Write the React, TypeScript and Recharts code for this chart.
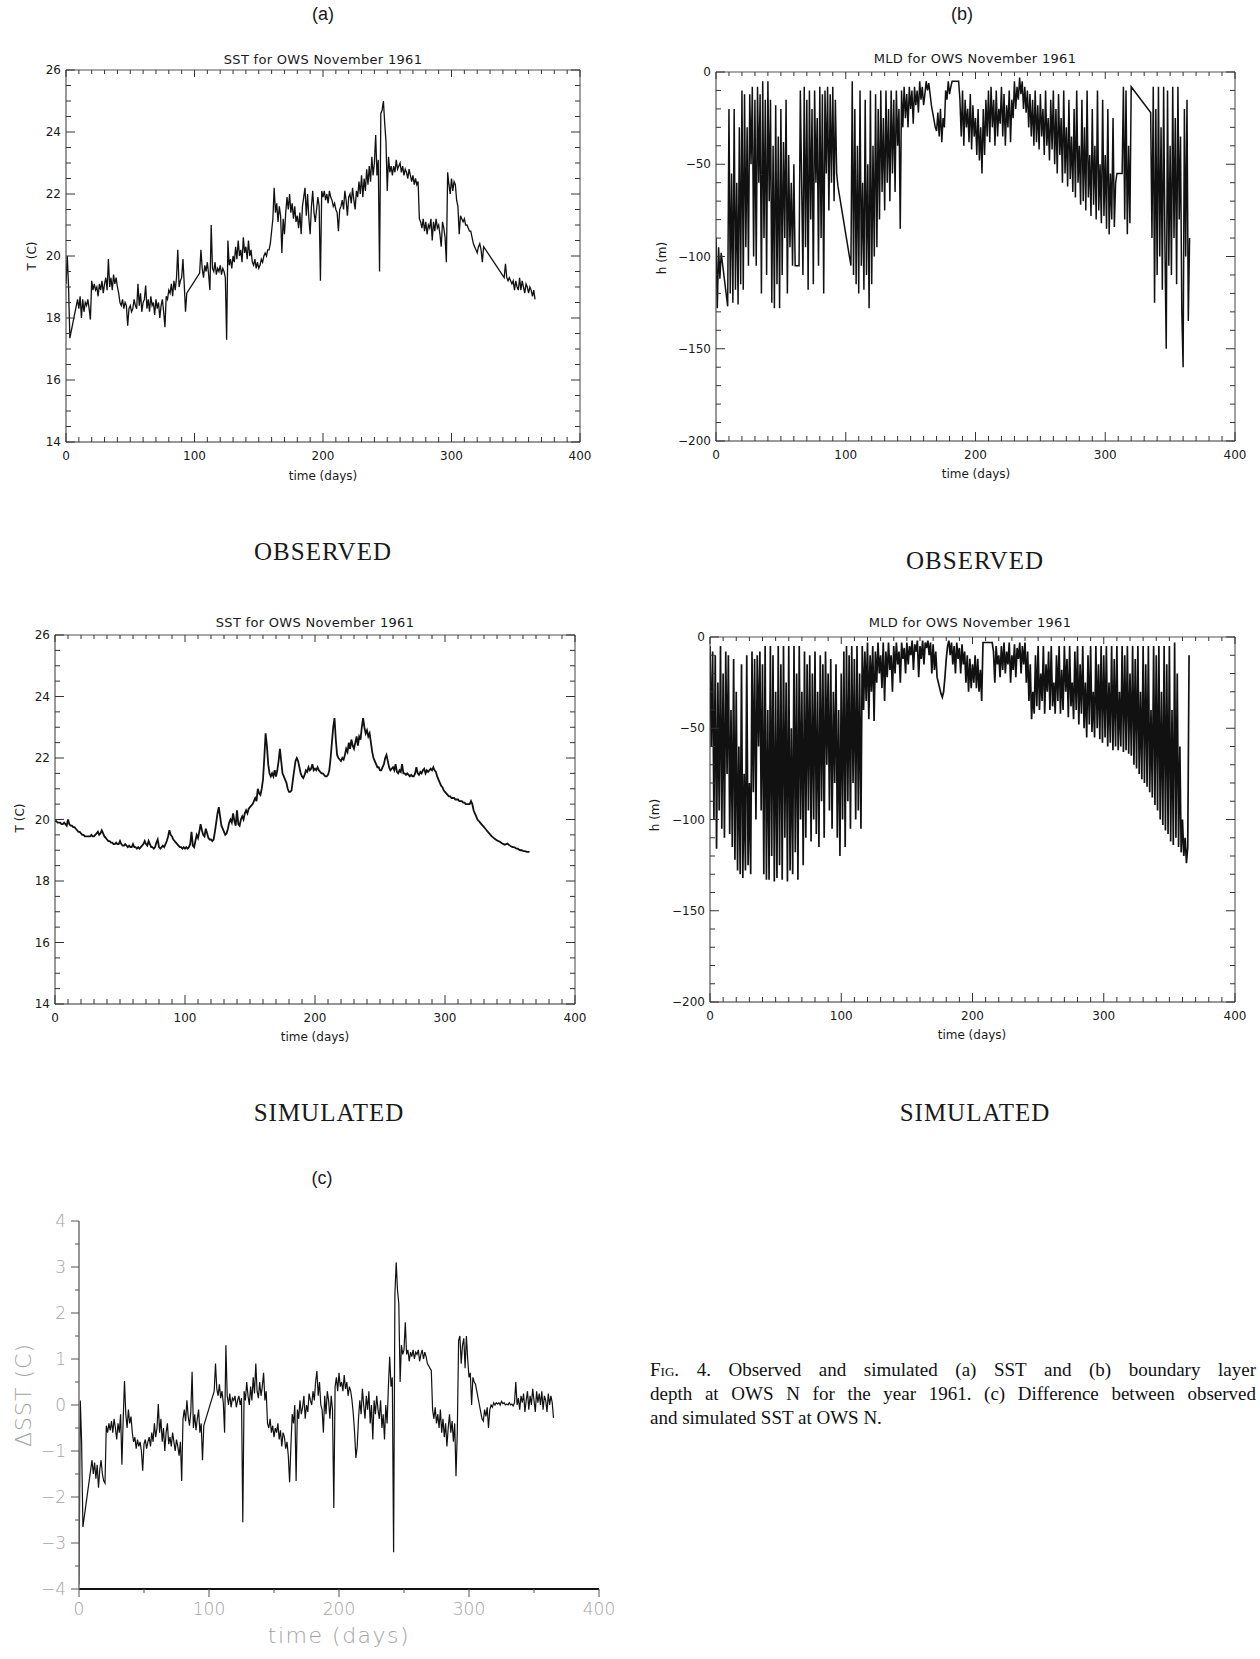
import React from "react";
import { LineChart, Line, XAxis, YAxis } from "recharts";

// one sample per day of 1961
const DAYS = Array.from({ length: 366 }, (_, i) => i);

// (a) observed SST, deg C (null = no data, line drawn straight across)
const OBS_SST = [
  19.1, 20.0, 19.0, 17.35, null, null, null, null, null, 18.6,
  18.3, 18.7, 18.0, 18.6, 18.2, 18.5, 18.4, 18.6, 18.3, 17.95,
  19.2, 18.9, 19.1, 18.9, 19.0, 18.7, 19.1, 18.9, 19.2, 18.8,
  19.1, 19.3, 18.9, 19.9, 19.0, 19.3, 18.9, 19.4, 19.1, 19.3,
  19.0, 18.8, 18.5, 18.4, 18.6, 18.3, 18.5, 18.4, 17.75, 18.3,
  18.4, 18.2, 18.3, 18.6, 18.4, 18.3, 19.1, 18.4, 18.8, 18.2,
  18.5, 18.6, 19.05, 18.3, 18.6, 18.2, 18.7, 18.4, 18.5, 18.1,
  18.6, 18.3, 18.5, 18.0, 18.4, 18.6, 18.2, 17.7, 18.7, 18.6,
  18.9, 18.8, 19.1, 18.7, 19.2, 18.9, 19.3, 20.2, 19.0, 19.2,
  19.3, 19.9, 19.1, 18.2, 18.8, null, null, null, null, null,
  null, null, null, null, 19.45, 20.2, 19.6, 19.3, 19.7, 19.5,
  19.8, 19.4, 18.9, 21.0, 19.6, 19.5, 19.8, 19.4, 19.6, 19.5,
  19.7, 19.4, 19.6, 19.5, 19.3, 17.3, 20.5, 19.7, 19.9, 19.6,
  20.0, 19.8, 20.3, 19.9, 20.5, 20.0, 20.2, 19.8, 20.6, 20.1,
  20.3, 19.9, 20.5, 20.0, 20.2, 19.8, 19.7, 19.9, 19.6, 19.8,
  19.6, 19.7, 19.9, 19.8, 20.0, 20.1, 20.0, 20.2, 20.2, 20.4,
  20.8, 21.2, 22.2, 21.4, 21.7, 21.1, 21.6, 21.3, 20.1, 21.2,
  20.7, 21.4, 21.9, 21.5, 22.0, 21.4, 21.7, 21.2, 21.6, 21.1,
  21.3, 20.9, 21.4, 20.7, 21.6, 21.9, 22.2, 21.3, 22.0, 21.2,
  20.7, 21.6, 22.1, 21.4, 21.1, 21.5, 21.9, 21.6, 19.2, 22.1,
  21.9, 22.1, 21.8, 22.0, 21.7, 22.1, 21.9, 21.8, 21.6, 21.7,
  21.5, 21.4, 20.8, 21.5, 21.6, 21.8, 21.5, 22.1, 21.8, 21.3,
  21.9, 22.0, 21.7, 22.2, 21.8, 21.5, 22.1, 21.9, 22.4, 22.0,
  22.6, 21.9, 22.5, 22.1, 22.8, 22.3, 22.9, 22.4, 23.2, 22.6,
  23.0, 23.9, 22.6, 23.1, 19.5, 24.6, 24.7, 25.0, 24.3, 23.7,
  22.1, 23.2, 22.7, 22.9, 22.6, 22.9, 22.7, 23.1, 22.8, 22.9,
  23.0, 22.7, 22.9, 22.6, 22.8, 22.7, 22.5, 22.8, 22.6, 22.4,
  22.6, 22.3, 22.5, 22.3, 22.4, 21.2, 21.1, 20.9, 21.2, 20.8,
  21.1, 20.7, 21.0, 20.9, 21.2, 20.5, 21.1, 20.8, 21.2, 20.9,
  21.0, 20.7, 20.3, 21.1, 20.9, 20.6, 19.8, 22.7, 22.3, 22.0,
  22.5, 22.1, 22.4, 22.3, 21.8, 21.6, 20.7, 21.3, 21.2, 21.1,
  21.2, 21.0, 21.0, 20.9, 20.8, 20.8, 20.6, 20.4, 20.3, 20.2,
  20.1, 20.3, 20.4, 20.2, 19.8, 20.3, null, null, null, null,
  null, null, null, null, null, null, null, null, null, null,
  null, 19.3, 19.75, 19.3, 19.2, 19.3, 19.2, 19.1, 19.2, 18.9,
  19.2, 19.0, 18.9, 19.3, 18.9, 19.2, 19.0, 18.8, 19.1, 19.0,
  18.8, 19.0, 18.9, 18.7, 18.9, 18.6,
];

// (b) observed mixed layer depth, m
const OBS_MLD = [
  -90, -128, -95, -112, -98, null, null, null, null, -127,
  -20, -120, -55, -125, -20, -118, -60, -126, -30, -115,
  -10, -118, -12, -95, -30, -105, -12, -50, -8, -100,
  -15, -105, -8, -60, -12, -120, -5, -90, -15, -110,
  -5, -70, -15, -125, -40, -128, -18, -115, -35, -128,
  -20, -110, -38, -90, -15, -120, -45, -95, -60, -105,
  -50, -105, -105, -105, -105, -10, -60, -110, -8, -95,
  -15, -118, -10, -80, -20, -115, -10, -60, -25, -105,
  -8, -90, -12, -120, -10, -55, -8, -75, -12, -60,
  -8, -70, -15, -55, -62, null, null, null, null, null,
  null, null, null, null, -105, -5, -110, -20, -115, -40,
  -120, -10, -105, -60, -118, -15, -110, -50, -128, -10,
  -115, -40, -100, -12, -95, -20, -80, -10, -65, -25,
  -75, -10, -60, -20, -70, -10, -55, -15, -65, -10,
  -40, -20, -85, -10, -30, -8, -25, -12, -30, -8,
  -20, -10, -28, -8, -18, -10, -22, -5, -15, -8,
  -18, -12, -5, -10, -6, -12, -18, -22, -26, -30,
  -32, -22, -35, -20, -38, -25, -30, -10, -15, -5,
  -12, -8, -5, -5, -5, -5, -5, -5, -15, -35,
  -10, -40, -15, -30, -20, -38, -12, -42, -18, -35,
  -25, -45, -20, -48, -30, -55, -20, -45, -15, -35,
  -10, -38, -8, -30, -15, -40, -10, -35, -20, -28,
  -8, -35, -12, -40, -18, -30, -10, -38, -15, -25,
  -5, -20, -8, -15, -3, -12, -5, -20, -8, -22,
  -10, -30, -12, -35, -15, -40, -10, -38, -18, -42,
  -12, -35, -20, -45, -10, -40, -25, -48, -15, -42,
  -10, -50, -20, -55, -12, -45, -25, -60, -10, -55,
  -30, -62, -15, -58, -35, -65, -20, -68, -10, -60,
  -40, -72, -15, -70, -30, -75, -10, -68, -45, -78,
  -20, -72, -40, -80, -10, -75, -50, -82, -15, -78,
  -45, -85, -20, -88, -55, -80, -25, -84, -60, -55,
  -55, -55, -55, -55, -8, -80, -10, -88, -40, -82,
  -8, null, null, null, null, null, null, null, null, null,
  null, null, null, null, null, -22, -90, -8, -125, -20,
  -110, -8, -100, -30, -118, -8, -95, -150, -10, -105,
  -40, -110, -8, -90, -25, -115, -8, -80, -35, -130,
  -160, -20, -100, -15, -135, -90,
];

// (a) simulated SST, deg C
const SIM_SST = [
  19.95, 19.95, 19.9, 19.9, 19.9, 19.85, 19.85, 19.9, 19.85, 19.8,
  20.0, 19.85, 19.8, 19.8, 19.75, 19.75, 19.7, 19.65, 19.6, 19.6,
  19.55, 19.5, 19.5, 19.45, 19.45, 19.45, 19.45, 19.45, 19.5, 19.45,
  19.45, 19.5, 19.55, 19.6, 19.5, 19.55, 19.65, 19.55, 19.45, 19.4,
  19.35, 19.3, 19.3, 19.25, 19.25, 19.2, 19.2, 19.25, 19.2, 19.2,
  19.3, 19.2, 19.15, 19.15, 19.2, 19.15, 19.1, 19.15, 19.1, 19.1,
  19.2, 19.1, 19.1, 19.05, 19.1, 19.05, 19.1, 19.15, 19.2, 19.3,
  19.2, 19.15, 19.3, 19.2, 19.1, 19.1, 19.05, 19.1, 19.25, 19.35,
  19.1, 19.05, 19.1, 19.15, 19.1, 19.2, 19.3, 19.45, 19.65, 19.5,
  19.45, 19.35, 19.3, 19.25, 19.2, 19.15, 19.1, 19.1, 19.05, 19.1,
  19.05, 19.1, 19.05, 19.1, 19.2, 19.6, 19.15, 19.1, 19.3, 19.5,
  19.4, 19.6, 19.85, 19.65, 19.5, 19.45, 19.7, 19.55, 19.4, 19.35,
  19.35, 19.3, 19.35, 19.6, 19.9, 20.2, 20.4, 20.1, 19.8, 19.7,
  19.6, 19.5, 19.55, 19.7, 19.9, 20.0, 19.9, 20.2, 19.95, 19.8,
  20.3, 19.85, 19.8, 20.0, 20.1, 20.0, 20.2, 20.3, 20.2, 20.35,
  20.4, 20.45, 20.5, 20.6, 20.7, 20.6, 21.0, 20.85, 20.8, 21.0,
  21.3, 22.0, 22.8, 22.4, 21.8, 21.5, 21.4, 21.5, 21.4, 21.6,
  21.4, 21.6, 21.9, 22.3, 21.9, 21.5, 21.4, 21.3, 21.2, 21.0,
  20.9, 20.9, 20.95, 21.3, 21.6, 21.9, 22.0, 21.9, 21.7, 21.5,
  21.4, 21.35, 21.45, 21.6, 21.55, 21.7, 21.6, 21.65, 21.8, 21.6,
  21.65, 21.6, 21.7, 21.6, 21.55, 21.5, 21.5, 21.45, 21.4, 21.4,
  21.45, 21.6, 22.0, 22.5, 23.0, 23.3, 22.6, 22.1, 22.0, 21.95,
  21.9, 22.0, 21.95, 22.1, 22.3, 22.2, 22.5, 22.3, 22.6, 22.4,
  22.3, 22.5, 22.7, 22.4, 22.7, 22.6, 23.0, 23.3, 23.0, 22.8,
  22.9, 22.7, 22.8, 22.5, 22.2, 22.0, 21.9, 21.8, 21.7, 21.7,
  21.6, 21.6, 21.7, 21.8, 22.0, 22.1, 21.9, 21.7, 21.6, 21.65,
  21.7, 21.6, 21.8, 21.55, 21.5, 21.6, 21.55, 21.8, 21.5, 21.5,
  21.45, 21.5, 21.45, 21.4, 21.45, 21.4, 21.4, 21.5, 21.7, 21.5,
  21.45, 21.55, 21.5, 21.6, 21.65, 21.5, 21.6, 21.55, 21.6, 21.65,
  21.6, 21.7, 21.6, 21.55, 21.4, 21.3, 21.2, 21.1, 21.05, 20.95,
  20.9, 20.85, 20.8, 20.75, 20.75, 20.7, 20.7, 20.7, 20.65, 20.65,
  20.65, 20.6, 20.6, 20.6, 20.55, 20.55, 20.5, 20.5, 20.5, 20.5,
  20.6, 20.5, 20.3, 20.2, 20.1, 20.0, 19.95, 19.9, 19.85, 19.8,
  19.75, 19.7, 19.65, 19.6, 19.55, 19.5, 19.45, 19.42, 19.38, 19.35,
  19.32, 19.3, 19.28, 19.25, 19.22, 19.2, 19.18, 19.2, 19.22, 19.18,
  19.15, 19.12, 19.1, 19.1, 19.08, 19.05, 19.05, 19.02, 19.0, 19.0,
  18.98, 18.97, 18.96, 18.95, 18.95, 18.95,
];

// (b) simulated boundary layer depth, m
const SIM_MLD = [
  -5, -60, -8, -100, -10, -116, -25, -95, -5, -105,
  -20, -110, -8, -75, -10, -108, -40, -115, -12, -122,
  -30, -128, -60, -130, -15, -132, -75, -128, -10, -125,
  -80, -130, -8, -85, -12, -100, -10, -60, -8, -95,
  -15, -130, -5, -133, -40, -133, -5, -120, -10, -134,
  -30, -132, -5, -125, -15, -133, -5, -110, -25, -134,
  -5, -128, -50, -130, -5, -118, -20, -133, -5, -100,
  -30, -125, -8, -110, -15, -95, -10, -112, -20, -100,
  -8, -108, -30, -115, -10, -90, -15, -110, -8, -70,
  -20, -95, -12, -105, -30, -80, -15, -110, -40, -120,
  -20, -100, -8, -115, -5, -90, -10, -105, -5, -80,
  -12, -100, -5, -95, -20, -105, -5, -40, -8, -35,
  -3, -45, -10, -30, -5, -46, -8, -25, -3, -20,
  -10, -28, -3, -35, -8, -22, -3, -18, -10, -30,
  -5, -20, -3, -15, -8, -25, -3, -12, -6, -20,
  -3, -15, -5, -10, -2, -18, -4, -8, -2, -22,
  -5, -12, -2, -15, -3, -6, -2, -10, -3, -20,
  -4, -18, -8, -22, -25, -28, -31, -33, -30, -22,
  -12, -5, -2, -10, -3, -15, -5, -20, -3, -12,
  -6, -20, -4, -15, -8, -25, -10, -30, -12, -28,
  -15, -25, -10, -28, -12, -30, -18, -35, -3, -3,
  -3, -3, -3, -3, -3, -3, -8, -25, -5, -15,
  -10, -22, -5, -18, -3, -20, -8, -15, -3, -25,
  -10, -18, -4, -22, -6, -12, -3, -20, -5, -15,
  -3, -25, -8, -35, -15, -45, -30, -42, -10, -38,
  -5, -40, -20, -35, -5, -42, -15, -30, -8, -40,
  -5, -38, -25, -42, -10, -35, -5, -42, -18, -40,
  -5, -30, -12, -44, -5, -38, -25, -45, -8, -40,
  -5, -48, -15, -42, -5, -50, -25, -55, -10, -48,
  -5, -52, -30, -55, -5, -50, -15, -56, -5, -58,
  -10, -55, -5, -60, -25, -58, -5, -62, -12, -60,
  -5, -62, -30, -60, -5, -63, -10, -62, -5, -64,
  -20, -65, -5, -70, -12, -72, -5, -75, -30, -78,
  -5, -80, -15, -82, -5, -85, -40, -88, -5, -92,
  -10, -95, -5, -100, -30, -103, -5, -106, -15, -108,
  -5, -112, -40, -114, -3, -110, -20, -115, -60, -118,
  -100, -120, -110, -124, -115, -10,
];

// (c) observed minus simulated SST, deg C
const DIFF_SST = [
  -3.9, 0.1, -0.8, -2.65, null, null, null, null, null, null,
  -1.2, -1.5, -1.25, -1.6, -1.3, -1.8, -1.4, -1.2, -1.5, -1.65,
  -1.7, -0.45, -0.6, -0.4, -0.55, -0.35, -0.6, -0.3, -0.5, -0.75,
  -0.4, -0.6, -0.2, -1.3, -0.3, 0.52, -0.2, -0.5, -0.1, -0.4,
  -0.25, -0.6, -0.8, -0.7, -0.95, -0.75, -0.9, -0.8, -1.0, -1.43,
  -0.85, -0.75, -0.95, -0.8, -0.7, -0.9, -0.6, -0.8, -0.4, -0.7,
  -0.5, 0.02, -0.6, -0.3, -0.8, -0.5, -1.0, -0.6, -0.4, -0.85,
  -0.7, -0.9, -0.6, -0.8, -1.0, -0.75, -0.9, -1.1, -0.8, -1.65,
  -0.3, -0.1, -0.35, 0.1, -0.25, -0.45, -0.15, 0.72, -0.5, -0.2,
  -0.55, -0.3, -0.1, -0.6, -0.4, -1.2, -0.45, null, null, null,
  null, null, null, null, 0.3, 0.9, 0.35, 0.2, 0.45, 0.15,
  0.3, 0.05, -0.6, 1.3, 0.2, 0.0, 0.25, -0.05, 0.15, 0.1,
  0.2, -0.05, 0.1, 0.2, 0.0, 0.15, -2.55, 0.3, 0.1, 0.5,
  0.2, 0.0, 0.4, 0.1, 0.6, 0.25, 0.9, 0.3, 0.15, 0.5,
  0.2, 0.4, 0.7, 0.1, 0.3, -0.4, -0.5, -0.3, -0.6, -0.45,
  -0.7, -0.5, -0.6, -0.4, -0.75, -0.55, -0.9, -0.6, -0.7, -0.95,
  -0.8, -1.1, -1.68, -0.9, -0.2, -0.4, 0.0, -1.65, -0.1, -0.3,
  0.1, -0.2, -0.05, 0.2, -0.3, 0.0, -0.15, 0.25, 0.1, 0.0,
  0.3, 0.1, 0.5, 0.74, 0.2, 0.5, 0.0, -0.1, -0.6, 0.2,
  -0.2, 0.3, 0.1, -0.3, 0.2, -0.1, -2.24, 0.4, 0.6, 0.3,
  0.7, 0.4, 0.5, 0.3, 0.65, 0.35, 0.5, 0.2, 0.4, 0.3,
  0.1, -0.2, -0.6, -1.15, -0.9, -0.3, 0.1, -0.2, 0.35, 0.0,
  -0.3, 0.2, -0.1, 0.3, -0.4, 0.0, -0.75, 0.1, -0.2, 0.2,
  -0.1, -0.3, 0.1, -0.5, -0.2, -0.75, 0.0, -0.4, 0.4, 1.05,
  0.4, 0.6, -3.2, 2.4, 3.1, 2.5, 2.2, 0.5, 1.3, 1.1,
  1.2, 1.8, 1.1, 1.2, 0.95, 1.15, 1.05, 1.2, 1.0, 1.15,
  1.1, 1.2, 0.95, 1.1, 1.2, 1.0, 1.15, 1.05, 0.9, 0.85,
  0.8, 0.75, -0.1, -0.3, -0.05, -0.4, -0.2, -0.5, -0.1, -0.6,
  -0.3, -0.7, -0.4, -0.9, -0.5, -0.2, -0.6, -0.35, -0.8, -0.4,
  -1.55, -0.6, 1.4, 1.5, 0.9, 1.3, 1.45, 0.8, 1.5, 1.0,
  0.6, 0.7, 0.0, 0.6, 0.5, 0.45, 0.3, 0.15, 0.0, -0.15,
  -0.3, -0.35, -0.1, -0.25, -0.05, -0.5, -0.1, 0.0, -0.05, 0.05,
  0.0, 0.05, 0.02, 0.05, 0.0, 0.08, 0.03, 0.05, 0.0, 0.02,
  0.0, 0.05, 0.0, 0.02, -0.02, 0.05, 0.5, 0.0, 0.15, -0.1,
  0.2, 0.05, 0.25, -0.15, 0.1, 0.3, -0.1, 0.2, 0.0, 0.35,
  0.1, -0.15, 0.3, 0.05, 0.25, 0.0, 0.3, -0.1, 0.2, 0.1,
  -0.15, 0.25, 0.0, 0.2, 0.05, -0.28,
];

// tick positions
const X_MAJOR = [0, 100, 200, 300, 400];
const X_TICKS_10 = Array.from({ length: 41 }, (_, i) => i * 10);
const X_TICKS_50 = [0, 50, 100, 150, 200, 250, 300, 350, 400];
const SST_MAJOR = [14, 16, 18, 20, 22, 24, 26];
const SST_TICKS = Array.from({ length: 25 }, (_, i) => 14 + i * 0.5);
const MLD_MAJOR = [-200, -150, -100, -50, 0];
const MLD_TICKS = Array.from({ length: 21 }, (_, i) => -200 + i * 10);
const DIFF_MAJOR = [-4, -3, -2, -1, 0, 1, 2, 3, 4];
const DIFF_TICKS = Array.from({ length: 17 }, (_, i) => -4 + i * 0.5);

const SANS = "'DejaVu Sans', 'Liberation Sans', sans-serif";
const SERIF = "'Liberation Serif', 'DejaVu Serif', serif";
const ARIAL = "'Liberation Sans', Arial, sans-serif";

const BOX = {
  boxed: true,
  outward: false,
  majorLen: 9,
  minorLen: 5,
  leftColor: "#333",
  leftWidth: 1,
  bottomColor: "#333",
  bottomWidth: 1,
  tickColor: "#333",
  textColor: "#1a1a1a",
  fontSize: 12,
  fontWeight: 400,
  xLabelDy: 14,
  yLabelGap: 5,
};

const OPEN = {
  boxed: false,
  outward: true,
  majorLen: 8,
  minorLen: 4,
  leftColor: "#6a6a6a",
  leftWidth: 1.4,
  bottomColor: "#111",
  bottomWidth: 2,
  tickColor: "#555",
  textColor: "#a3a3a3",
  fontSize: 17,
  fontWeight: 300,
  xLabelDy: 20,
  yLabelGap: 13,
};

// room kept round the plot box so that corner labels are not clipped
const AX_L = 60;
const AX_B = 40;
const M_T = 12;
const M_R = 26;

const minus = (v: number) => (v < 0 ? "\u2212" + Math.abs(v) : String(v));
const inList = (list: number[], v: number) => list.some((m) => Math.abs(m - v) < 1e-6);

function Panel(p: any) {
  const s = p.look;
  const rows = DAYS.map((d, i) => ({ day: d, v: p.values[i] }));
  const topH = s.boxed ? 1 : 0;
  const PL = AX_L;
  const PT = M_T + topH;
  const PR = AX_L + p.w;
  const PB = PT + p.h;
  const sgn = s.outward ? -1 : 1;
  const txt = {
    fontSize: s.fontSize,
    fontFamily: SANS,
    fontWeight: s.fontWeight,
    fill: s.textColor,
  };

  const bottomTick = (t: any) => {
    const v = t.payload.value;
    const major = inList(p.xMajor, v);
    const len = major ? s.majorLen : s.minorLen;
    return (
      <g>
        <line x1={t.x} y1={PB} x2={t.x} y2={PB - sgn * len} stroke={s.tickColor} strokeWidth={1} />
        {major && (
          <text x={t.x} y={PB + s.xLabelDy} textAnchor="middle" dominantBaseline="central" {...txt}>
            {v}
          </text>
        )}
      </g>
    );
  };
  const topTick = (t: any) => {
    const major = inList(p.xMajor, t.payload.value);
    const len = major ? s.majorLen - 2 : s.minorLen - 1;
    return <line x1={t.x} y1={PT} x2={t.x} y2={PT + len} stroke={s.tickColor} strokeWidth={1} />;
  };
  const leftTick = (t: any) => {
    const v = t.payload.value;
    const major = inList(p.yMajor, v);
    const len = major ? s.majorLen : s.minorLen;
    return (
      <g>
        <line x1={PL} y1={t.y} x2={PL + sgn * len} y2={t.y} stroke={s.tickColor} strokeWidth={1} />
        {major && (
          <text x={PL - s.yLabelGap} y={t.y} textAnchor="end" dominantBaseline="central" {...txt}>
            {minus(v)}
          </text>
        )}
      </g>
    );
  };
  const rightTick = (t: any) => {
    const major = inList(p.yMajor, t.payload.value);
    const len = major ? s.majorLen : s.minorLen;
    return <line x1={PR} y1={t.y} x2={PR - len} y2={t.y} stroke={s.tickColor} strokeWidth={1} />;
  };

  return (
    <div style={{ position: "absolute", left: p.left - AX_L, top: p.top - PT }}>
      <LineChart
        width={AX_L + p.w + topH + M_R}
        height={PT + p.h + AX_B}
        data={rows}
        margin={{ top: M_T, right: M_R, bottom: 0, left: 0 }}
      >
        <XAxis
          xAxisId="b"
          dataKey="day"
          type="number"
          domain={[0, 400]}
          ticks={p.xTicks}
          interval={0}
          height={AX_B}
          tickSize={0}
          tickMargin={0}
          tickLine={false}
          axisLine={{ stroke: s.bottomColor, strokeWidth: s.bottomWidth }}
          tick={bottomTick}
          allowDataOverflow
        />
        {s.boxed && (
          <XAxis
            xAxisId="t"
            orientation="top"
            dataKey="day"
            type="number"
            domain={[0, 400]}
            ticks={p.xTicks}
            interval={0}
            height={1}
            tickSize={0}
            tickMargin={0}
            tickLine={false}
            axisLine={{ stroke: "#555", strokeWidth: 1 }}
            tick={topTick}
            allowDataOverflow
          />
        )}
        <YAxis
          yAxisId="l"
          type="number"
          domain={p.yDomain}
          ticks={p.yTicks}
          interval={0}
          width={AX_L}
          tickSize={0}
          tickMargin={0}
          tickLine={false}
          axisLine={{ stroke: s.leftColor, strokeWidth: s.leftWidth }}
          tick={leftTick}
          allowDataOverflow
        />
        {s.boxed && (
          <YAxis
            yAxisId="r"
            orientation="right"
            type="number"
            domain={p.yDomain}
            ticks={p.yTicks}
            interval={0}
            width={1}
            tickSize={0}
            tickMargin={0}
            tickLine={false}
            axisLine={{ stroke: "#444", strokeWidth: 1 }}
            tick={rightTick}
            allowDataOverflow
          />
        )}
        <Line
          xAxisId="b"
          yAxisId="l"
          type="linear"
          dataKey="v"
          stroke="#111"
          strokeWidth={p.stroke}
          dot={false}
          connectNulls
          isAnimationActive={false}
        />
      </LineChart>
    </div>
  );
}

function Label(p: any) {
  return (
    <div
      style={{
        position: "absolute",
        left: p.x,
        top: p.y,
        transform: `translate(-50%, -50%)${p.rotate ? " rotate(-90deg)" : ""}`,
        fontSize: p.size,
        fontFamily: p.family || SANS,
        fontWeight: p.weight || 400,
        color: p.color || "#1a1a1a",
        letterSpacing: p.spacing || 0,
        whiteSpace: "nowrap",
        lineHeight: 1,
      }}
    >
      {p.children}
    </div>
  );
}

const CAPTION_LINE: React.CSSProperties = {
  textAlign: "justify",
  textAlignLast: "justify",
  whiteSpace: "nowrap",
  height: 24,
};

export default function App() {
  return (
    <div style={{ position: "relative", width: 1260, height: 1659, background: "#fff", overflow: "hidden" }}>
      <style>{"body{margin:0}"}</style>

      <Label x={323} y={14} size={18} family={ARIAL}>(a)</Label>
      <Label x={962} y={14} size={18} family={ARIAL}>(b)</Label>

      <Label x={323} y={59} size={13} spacing={0.3}>SST for OWS November 1961</Label>
      <Label x={975} y={58} size={13} spacing={0.3}>MLD for OWS November 1961</Label>
      <Panel left={66} top={70} w={514} h={372} values={OBS_SST} yDomain={[14, 26]}
        xTicks={X_TICKS_10} xMajor={X_MAJOR} yTicks={SST_TICKS} yMajor={SST_MAJOR} look={BOX} stroke={1.3} />
      <Panel left={716} top={72} w={519} h={369} values={OBS_MLD} yDomain={[-200, 0]}
        xTicks={X_TICKS_10} xMajor={X_MAJOR} yTicks={MLD_TICKS} yMajor={MLD_MAJOR} look={BOX} stroke={1.5} />
      <Label x={323} y={476} size={12}>time (days)</Label>
      <Label x={976} y={474} size={12}>time (days)</Label>
      <Label x={32} y={256} size={12} rotate>T (C)</Label>
      <Label x={662} y={258} size={12} rotate>h (m)</Label>
      <Label x={323} y={551} size={25} family={SERIF} spacing={1}>OBSERVED</Label>
      <Label x={975} y={560} size={25} family={SERIF} spacing={1}>OBSERVED</Label>

      <Label x={315} y={622} size={13} spacing={0.3}>SST for OWS November 1961</Label>
      <Label x={970} y={622} size={13} spacing={0.3}>MLD for OWS November 1961</Label>
      <Panel left={55} top={635} w={520} h={369} values={SIM_SST} yDomain={[14, 26]}
        xTicks={X_TICKS_10} xMajor={X_MAJOR} yTicks={SST_TICKS} yMajor={SST_MAJOR} look={BOX} stroke={1.8} />
      <Panel left={710} top={637} w={525} h={365} values={SIM_MLD} yDomain={[-200, 0]}
        xTicks={X_TICKS_10} xMajor={X_MAJOR} yTicks={MLD_TICKS} yMajor={MLD_MAJOR} look={BOX} stroke={1.7} />
      <Label x={315} y={1037} size={12}>time (days)</Label>
      <Label x={972} y={1035} size={12}>time (days)</Label>
      <Label x={20} y={818} size={12} rotate>T (C)</Label>
      <Label x={655} y={815} size={12} rotate>h (m)</Label>
      <Label x={329} y={1112} size={25} family={SERIF} spacing={1}>SIMULATED</Label>
      <Label x={975} y={1112} size={25} family={SERIF} spacing={1}>SIMULATED</Label>

      <Label x={322} y={1178} size={18} family={ARIAL}>(c)</Label>
      <Panel left={79} top={1221} w={520} h={368} values={DIFF_SST} yDomain={[-4, 4]}
        xTicks={X_TICKS_50} xMajor={X_MAJOR} yTicks={DIFF_TICKS} yMajor={DIFF_MAJOR} look={OPEN} stroke={1.2} />
      <Label x={24} y={1395} size={22} rotate color="#a3a3a3" weight={300} spacing={1}>ΔSST (C)</Label>
      <Label x={339} y={1636} size={22} color="#a3a3a3" weight={300} spacing={1.5}>time (days)</Label>

      <div
        style={{
          position: "absolute",
          left: 650,
          top: 1358,
          width: 606,
          fontFamily: SERIF,
          fontSize: 19,
          lineHeight: "24px",
          color: "#111",
        }}
      >
        <div style={CAPTION_LINE}>
          F<span style={{ fontVariant: "small-caps" }}>ig</span>. 4. Observed and simulated (a) SST and (b) boundary layer
        </div>
        <div style={CAPTION_LINE}>depth at OWS N for the year 1961. (c) Difference between observed</div>
        <div>and simulated SST at OWS N.</div>
      </div>
    </div>
  );
}
